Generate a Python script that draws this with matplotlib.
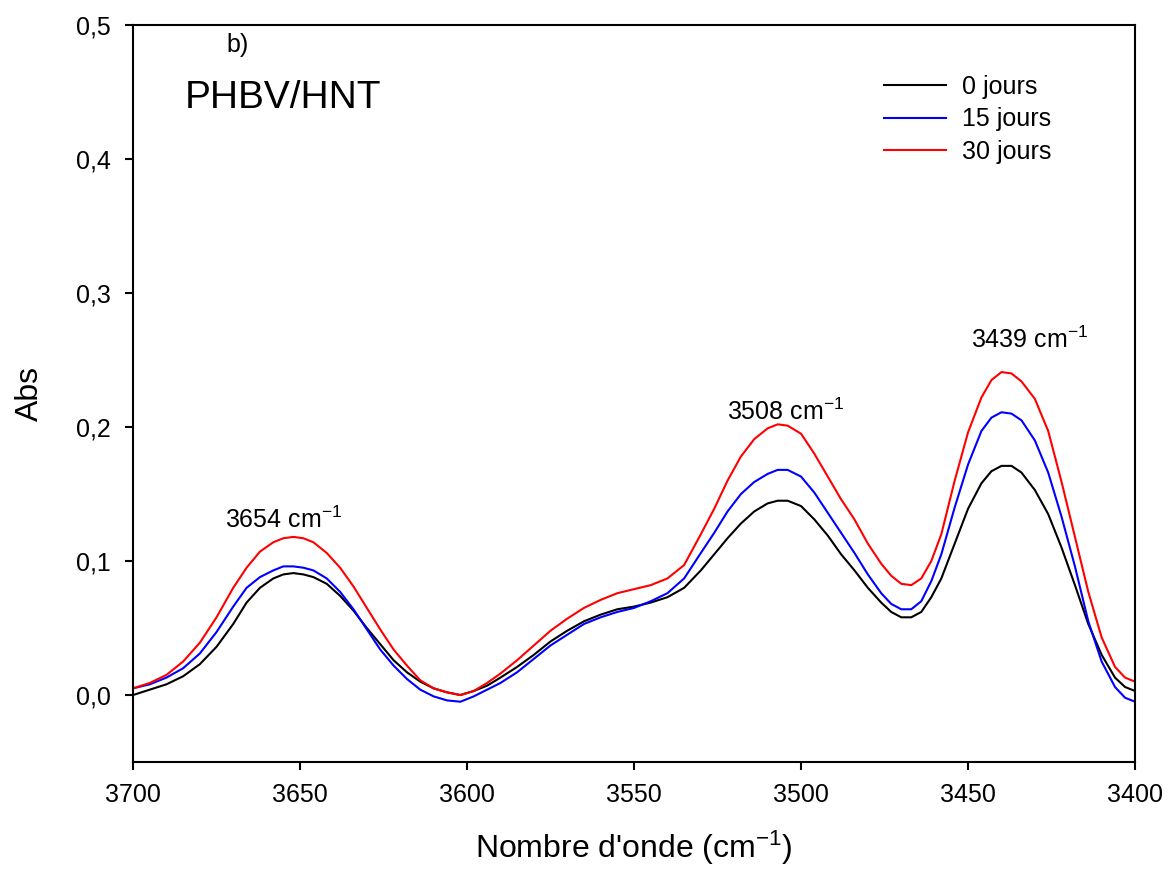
import matplotlib
matplotlib.use('Agg')
import matplotlib.pyplot as plt

# wavenumbers (cm-1) shared by the three spectra
wavenumber = [3700, 3695, 3690, 3685, 3680, 3675, 3670,
              3666, 3662, 3658, 3655, 3652, 3649, 3646,
              3642, 3638, 3634, 3630, 3626, 3622, 3618,
              3614, 3610, 3606, 3602, 3598, 3594, 3590,
              3585, 3580, 3575, 3570, 3565, 3560, 3555,
              3550, 3545, 3540, 3535, 3530, 3526, 3522,
              3518, 3514, 3510, 3507, 3504, 3500, 3496,
              3492, 3488, 3484, 3480, 3476, 3473, 3470,
              3467, 3464, 3461, 3458, 3454, 3450, 3446,
              3443, 3440, 3437, 3434, 3430, 3426, 3422,
              3418, 3414, 3410, 3406, 3403, 3400]

abs_0j = [0.000, 0.004, 0.008, 0.014, 0.023, 0.036, 0.053,
          0.069, 0.080, 0.087, 0.090, 0.091, 0.090, 0.088,
          0.083, 0.074, 0.063, 0.050, 0.038, 0.026, 0.017,
          0.010, 0.005, 0.002, 0.000, 0.003, 0.007, 0.013,
          0.021, 0.030, 0.040, 0.048, 0.055, 0.060, 0.064,
          0.066, 0.069, 0.073, 0.080, 0.093, 0.105, 0.117,
          0.128, 0.137, 0.143, 0.145, 0.145, 0.141, 0.131,
          0.119, 0.105, 0.093, 0.080, 0.069, 0.062, 0.058,
          0.058, 0.062, 0.073, 0.087, 0.113, 0.139, 0.158,
          0.167, 0.171, 0.171, 0.166, 0.153, 0.135, 0.110,
          0.082, 0.053, 0.030, 0.013, 0.006, 0.003]

abs_15j = [0.005, 0.008, 0.013, 0.020, 0.031, 0.047, 0.066,
           0.080, 0.088, 0.093, 0.096, 0.096, 0.095, 0.093,
           0.087, 0.077, 0.064, 0.049, 0.034, 0.022, 0.012,
           0.004, -0.001, -0.004, -0.005, -0.001, 0.004, 0.009,
           0.017, 0.027, 0.037, 0.045, 0.053, 0.058, 0.062,
           0.065, 0.070, 0.076, 0.087, 0.106, 0.121, 0.137,
           0.150, 0.159, 0.165, 0.168, 0.168, 0.163, 0.151,
           0.136, 0.121, 0.106, 0.090, 0.076, 0.068, 0.064,
           0.064, 0.070, 0.085, 0.105, 0.140, 0.172, 0.197,
           0.207, 0.211, 0.210, 0.205, 0.190, 0.166, 0.133,
           0.096, 0.055, 0.025, 0.006, -0.002, -0.005]

abs_30j = [0.005, 0.009, 0.015, 0.025, 0.039, 0.058, 0.080,
           0.095, 0.107, 0.114, 0.117, 0.118, 0.117, 0.114,
           0.106, 0.095, 0.081, 0.065, 0.049, 0.034, 0.022,
           0.011, 0.005, 0.002, 0.000, 0.003, 0.009, 0.016,
           0.026, 0.037, 0.048, 0.057, 0.065, 0.071, 0.076,
           0.079, 0.082, 0.087, 0.097, 0.120, 0.139, 0.160,
           0.178, 0.191, 0.199, 0.202, 0.201, 0.195, 0.180,
           0.163, 0.146, 0.131, 0.113, 0.098, 0.089, 0.083,
           0.082, 0.087, 0.100, 0.120, 0.160, 0.196, 0.222,
           0.235, 0.241, 0.240, 0.234, 0.221, 0.197, 0.159,
           0.118, 0.077, 0.043, 0.021, 0.013, 0.010]

series_labels = ['0 jours', '15 jours', '30 jours']
series_colors = ['black', 'blue', 'red']

peak_labels = ['3654', '3508', '3439']
peak_pos = [(3655, 0.125), (3504.5, 0.205), (3431.5, 0.259)]

yticks = [0.0, 0.1, 0.2, 0.3, 0.4, 0.5]
ytick_labels = ['0,0', '0,1', '0,2', '0,3', '0,4', '0,5']
xticks = [3700, 3650, 3600, 3550, 3500, 3450, 3400]

plt.rcParams['font.family'] = ['Liberation Sans', 'DejaVu Sans']
plt.rcParams['mathtext.default'] = 'regular'

fig = plt.figure(figsize=(11.71, 8.73), dpi=100)
ax = fig.add_axes([0.1136, 0.1271, 0.8557, 0.8443])

for y, lab, col in zip([abs_0j, abs_15j, abs_30j], series_labels, series_colors):
    ax.plot(wavenumber, y, color=col, lw=1.5, label=lab)

ax.set_xlim(3700, 3400)
ax.set_ylim(-0.05, 0.5)
ax.set_xticks(xticks)
ax.set_xticklabels([str(t) for t in xticks])
ax.set_yticks(yticks)
ax.set_yticklabels(ytick_labels)
ax.tick_params(direction='out', length=6, width=1.5, labelsize=18)
ax.tick_params(axis='x', pad=9)
ax.tick_params(axis='y', pad=10)
for s in ax.spines.values():
    s.set_linewidth(1.5)

ax.set_xlabel('Nombre d\'onde (cm$^{-1}$)', fontsize=23, labelpad=16)
ax.set_ylabel('Abs', fontsize=23, labelpad=22)

for lab, (px, py) in zip(peak_labels, peak_pos):
    ax.text(px, py, lab + ' cm$^{-1}$', fontsize=18, ha='center', va='baseline')

ax.text(3684.4, 0.438, 'PHBV/HNT', fontsize=28, va='baseline')
ax.text(3671.9, 0.480, 'b)', fontsize=18, va='baseline')

ax.legend(loc='upper left', bbox_to_anchor=(0.749, 0.932), frameon=False,
          fontsize=18, handlelength=2.5, handletextpad=0.64, labelspacing=0.33,
          borderpad=0, borderaxespad=0)

fig.savefig('out.png', dpi=100)
